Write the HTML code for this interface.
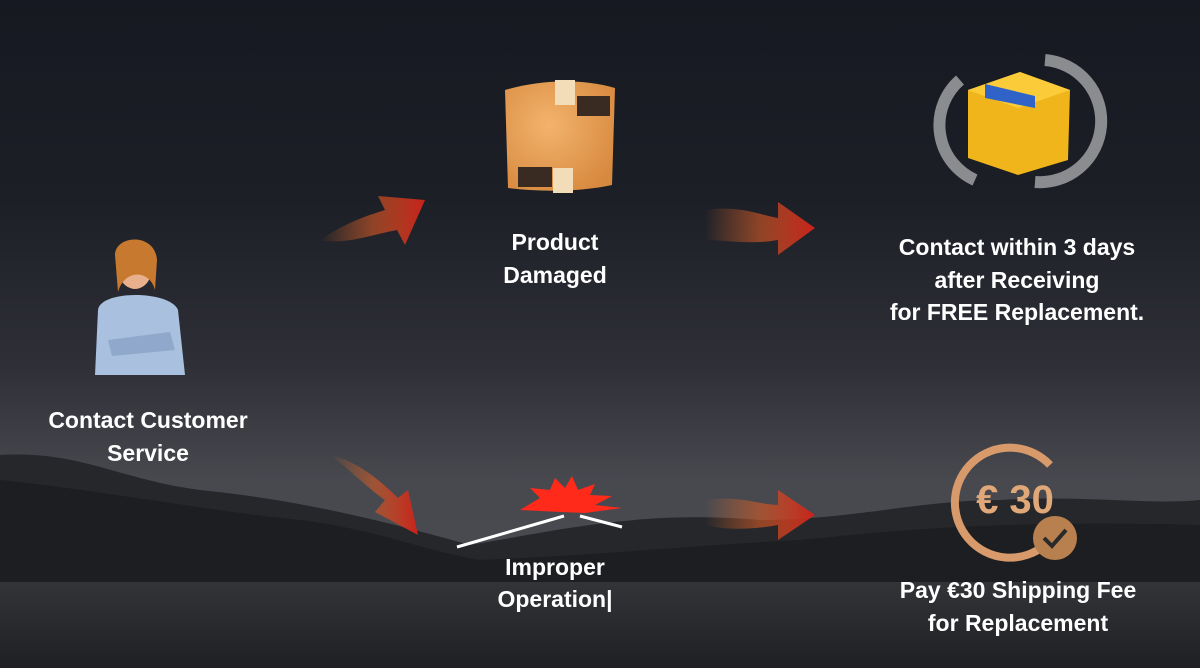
<!DOCTYPE html>
<html><head><meta charset="utf-8"><style>
html,body{margin:0;padding:0;width:1200px;height:668px;overflow:hidden;background:#1a1c23}
svg{display:block}
text{font-family:"Liberation Sans",sans-serif;fill:#fff;font-size:23px;font-weight:bold;text-anchor:middle}
</style></head><body>
<svg width="1200" height="668" viewBox="0 0 1200 668">
<defs>
<linearGradient id="sky" x1="0" y1="0" x2="0" y2="1">
<stop offset="0" stop-color="#171922"/>
<stop offset="0.3" stop-color="#1d1f27"/>
<stop offset="0.55" stop-color="#2f3037"/>
<stop offset="0.72" stop-color="#48494f"/>
<stop offset="1" stop-color="#4a4b50"/>
</linearGradient>
<linearGradient id="water" x1="0" y1="0" x2="0" y2="1">
<stop offset="0" stop-color="#333438"/><stop offset="1" stop-color="#1f2024"/>
</linearGradient>
<linearGradient id="arr" x1="0" y1="0" x2="1" y2="0">
<stop offset="0" stop-color="#e0702a" stop-opacity="0"/>
<stop offset="0.5" stop-color="#d85a25" stop-opacity="0.6"/>
<stop offset="1" stop-color="#c8221a"/>
</linearGradient>
<radialGradient id="box" cx="0.4" cy="0.4" r="0.7"><stop offset="0" stop-color="#f3b36c"/><stop offset="1" stop-color="#d7893f"/></radialGradient>
</defs>
<rect width="1200" height="668" fill="url(#sky)"/>
<path d="M0 455 C80 450 120 480 200 490 C300 500 380 520 470 545 C560 530 640 510 760 520 C850 520 920 500 1000 500 C1080 495 1150 505 1200 500 L1200 585 L0 585Z" fill="#26272b"/>
<path d="M0 480 C100 490 200 510 300 520 C380 530 420 550 480 560 C600 555 700 545 800 540 C900 530 1000 520 1200 525 L1200 585 L0 585Z" fill="#1d1e21"/>
<rect y="582" width="1200" height="86" fill="url(#water)"/>

<g>
<ellipse cx="135" cy="265" rx="18" ry="24" fill="#e8b08d"/>
<path d="M115 255 C115 235 155 232 157 260 L155 290 C150 270 125 268 118 292Z" fill="#c6792f"/>
<path d="M98 310 C100 290 170 290 178 310 L185 375 L95 375Z" fill="#a9c0de"/>
<path d="M108 340 L170 332 L175 350 L112 356Z" fill="#8fa8cc"/>
</g>

<g fill="url(#arr)">
<path d="M320 240 C350 220 370 215 385 210 L378 196 L425 200 L405 245 L397 230 C370 235 345 245 320 240Z"/>
<path d="M705 210 C740 205 760 215 778 218 L778 202 L815 228 L778 255 L778 240 C750 245 725 240 705 240Z"/>
<path d="M705 500 C740 495 760 505 778 505 L778 490 L815 515 L778 540 L778 525 C750 530 725 530 705 525Z"/>
<path d="M330 455 C350 470 370 490 385 500 L375 512 L418 535 L408 490 L398 498 C380 480 355 460 330 455Z"/>
</g>

<g>
<path d="M505 90 C540 80 580 78 615 88 L612 185 C580 192 540 192 508 188 Z" fill="url(#box)"/>
<rect x="555" y="80" width="20" height="25" fill="#f3dcb8"/>
<rect x="553" y="168" width="20" height="25" fill="#f3dcb8"/>
<rect x="577" y="96" width="33" height="20" fill="#3a2b22"/>
<rect x="518" y="167" width="34" height="20" fill="#3a2b22"/>
</g>

<g>
<path d="M960 80 A60 60 0 0 0 975 180" stroke="#8b8c90" stroke-width="12" fill="none"/>
<path d="M1045 60 A60 60 0 0 1 1035 182" stroke="#8b8c90" stroke-width="12" fill="none"/>
<path d="M968 90 L1020 72 L1070 90 L1068 160 L1018 175 L968 158Z" fill="#f1b51c"/>
<path d="M968 90 L1020 72 L1070 90 L1018 108Z" fill="#fbcb3a"/>
<path d="M985 84 L1035 96 L1035 108 L985 98Z" fill="#2f63c7"/>
</g>

<g>
<path d="M1050 465 A55 55 0 1 0 1045 545" stroke="#d89a6a" stroke-width="8" fill="none"/>
<text x="1015" y="513" style="font-size:40px;font-weight:bold;fill:#e0a878">€ 30</text>
<circle cx="1055" cy="538" r="22" fill="#b9804f"/>
<path d="M1044 538 L1052 546 L1066 530" stroke="#2a2a2a" stroke-width="4" fill="none"/>
</g>

<path d="M520 510 L540 498 L530 488 L550 490 L555 478 L565 488 L572 476 L578 490 L595 484 L590 495 L612 496 L595 505 L622 508 L585 513 L560 512Z" fill="#ff2a1a"/>
<line x1="457" y1="547" x2="564" y2="516" stroke="#fff" stroke-width="3"/>
<line x1="580" y1="516" x2="622" y2="527" stroke="#fff" stroke-width="3"/>

<text x="148" y="428">Contact Customer</text>
<text x="148" y="461">Service</text>
<text x="555" y="250">Product</text>
<text x="555" y="283">Damaged</text>
<text x="1017" y="255">Contact within 3 days</text>
<text x="1017" y="288">after Receiving</text>
<text x="1017" y="320">for FREE Replacement.</text>
<text x="555" y="575">Improper</text>
<text x="555" y="607">Operation|</text>
<text x="1018" y="598">Pay €30 Shipping Fee</text>
<text x="1018" y="631">for Replacement</text>
</svg>
</body></html>
